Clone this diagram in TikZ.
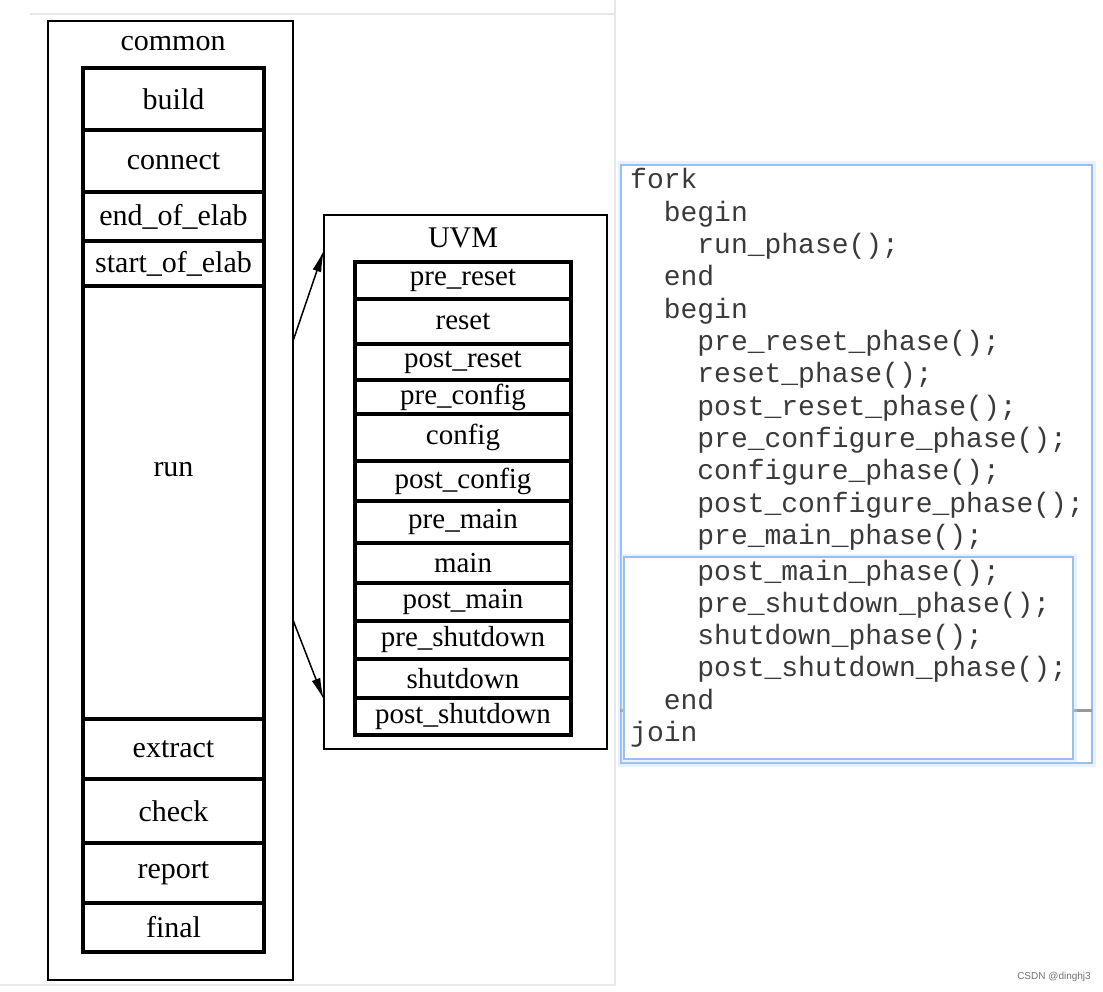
\documentclass[tikz,border=0pt]{standalone}
\usepackage{fontspec}
\setmainfont{Liberation Serif}
\setmonofont{Liberation Mono}
\newfontfamily\wmfont{Liberation Sans}
\usetikzlibrary{arrows.meta}
\definecolor{glowblue}{RGB}{150,192,242}
\definecolor{codegray}{RGB}{58,58,58}
\begin{document}
\begin{tikzpicture}[x=1pt,y=-1pt,
  outerbox/.style={draw, line width=1.7pt, outer sep=0pt, inner sep=0pt, anchor=north west},
  cellL/.style={draw, line width=3.2pt, outer sep=0pt, inner sep=0pt, anchor=north west, minimum width=181pt, font=\fontsize{30}{30}\selectfont},
  cellR/.style={draw, line width=3.2pt, outer sep=0pt, inner sep=0pt, anchor=north west, minimum width=216pt, font=\fontsize{29}{29}\selectfont},
  title/.style={inner sep=0pt, font=\fontsize{30}{30}\selectfont},
  arr/.style={line width=1.5pt, -{Latex[length=22pt,width=9pt]}},
  panel/.style={draw=glowblue, line width=2pt, fill=white, outer sep=0pt, inner sep=0pt, anchor=north west,
     preaction={draw=glowblue!60, line width=7pt, draw opacity=0.35}},
  code/.style={anchor=base west, inner sep=0pt, text=codegray, font=\ttfamily\fontsize{28}{28}\selectfont},
  frameline/.style={draw=black!9, line width=1.2pt}
]
\useasboundingbox[fill=white] (0,0) rectangle (1103,992);
% page frame of the left screenshot
\draw[frameline] (30,14) -- (615,14);
\draw[frameline] (615,0) -- (615,985) -- (0,985);

% common column
\node[outerbox, minimum width=245pt, minimum height=959pt] (common) at (48,21) {};
\node[title] (lcommon) at (173,44) {common};
\node[cellL, minimum height=62pt]  (build)  at (83,68)  {build};
\node[cellL, minimum height=62pt]  (connect) at (83,130) {connect};
\node[cellL, minimum height=49pt]  (endelab) at (83,192) {end\_of\_elab};
\node[cellL, minimum height=45pt]  (startelab) at (83,241) {start\_of\_elab};
\node[cellL, minimum height=433pt] (run)    at (83,286) {};
\node[title, yshift=33pt] (lrun) at (run.center) {run};
\node[cellL, minimum height=60pt]  (extract) at (83,719) {extract};
\node[cellL, minimum height=64pt]  (check)  at (83,779) {check};
\node[cellL, minimum height=60pt]  (report) at (83,843) {report};
\node[cellL, minimum height=49pt]  (final)  at (83,903) {final};

% UVM column
\node[outerbox, minimum width=283pt, minimum height=534pt] (uvm) at (324,215) {};
\node[title] (luvm) at (463,238) {UVM};
\node[cellR, minimum height=37pt] (prereset)  at (355,262) {pre\_reset};
\node[cellR, minimum height=45pt] (reset)     at (355,299) {reset};
\node[cellR, minimum height=36pt] (postreset) at (355,344) {post\_reset};
\node[cellR, minimum height=34pt] (preconfig) at (355,380) {pre\_config};
\node[cellR, minimum height=47pt] (config)    at (355,414) {config};
\node[cellR, minimum height=40pt] (postconfig) at (355,461) {post\_config};
\node[cellR, minimum height=42pt] (premain)   at (355,501) {pre\_main};
\node[cellR, minimum height=40pt] (main)      at (355,543) {main};
\node[cellR, minimum height=38pt] (postmain)  at (355,583) {post\_main};
\node[cellR, minimum height=38pt] (preshut)   at (355,621) {pre\_shutdown};
\node[cellR, minimum height=39pt] (shut)      at (355,659) {shutdown};
\node[cellR, minimum height=37pt] (postshut)  at (355,698) {post\_shutdown};

% arrows
\draw[arr] ([yshift=-320pt]common.north east) -- ([yshift=-35pt]uvm.north west);
\draw[arr] ([yshift=-599pt]common.north east) -- ([yshift=-485pt]uvm.north west);

% code panels
\node[panel, minimum width=471pt, minimum height=598pt] (panelA) at (621,165) {};
\draw[draw=black!40, line width=3pt] (620,710) -- (624,710);
\draw[draw=black!40, line width=3pt] (1073,710) -- (1092,710);
\node[panel, minimum width=449pt, minimum height=202pt] (panelB) at (624,557) {};

\node[code] (c1)  at (630,189)   {fork};
\node[code] (c2)  at (663.6,221.3) {begin};
\node[code] (c3)  at (697.2,253.6) {run\_phase();};
\node[code] (c4)  at (663.6,285.9) {end};
\node[code] (c5)  at (663.6,318.2) {begin};
\node[code] (c6)  at (697.2,350.5) {pre\_reset\_phase();};
\node[code] (c7)  at (697.2,382.8) {reset\_phase();};
\node[code] (c8)  at (697.2,415.1) {post\_reset\_phase();};
\node[code] (c9)  at (697.2,447.4) {pre\_configure\_phase();};
\node[code] (c10) at (697.2,479.7) {configure\_phase();};
\node[code] (c11) at (697.2,512)   {post\_configure\_phase();};
\node[code] (c12) at (697.2,544.3) {pre\_main\_phase();};
\node[code] (c13) at (697.2,580)   {post\_main\_phase();};
\node[code] (c14) at (697.2,612.3) {pre\_shutdown\_phase();};
\node[code] (c15) at (697.2,644.6) {shutdown\_phase();};
\node[code] (c16) at (697.2,676.9) {post\_shutdown\_phase();};
\node[code] (c17) at (663.6,709.2) {end};
\node[code] (c18) at (630,741.5)   {join};

% watermark
\node[inner sep=0pt, text=black!55, font=\wmfont\fontsize{10}{10}\selectfont] (wm) at (1054,977) {CSDN @dinghj3};
\end{tikzpicture}
\end{document}
